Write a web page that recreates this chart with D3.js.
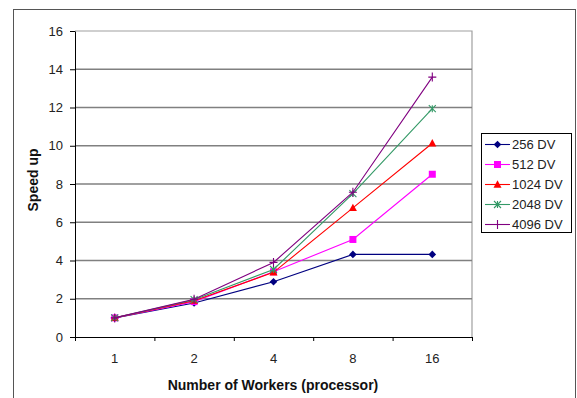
<!DOCTYPE html>
<html>
<head>
<meta charset="utf-8">
<script src="https://cdn.jsdelivr.net/npm/d3@7"></script>
<style>
  body { margin: 0; background: #fff; }
  svg { display: block; font-family: "Liberation Sans", Arial, sans-serif; }
</style>
</head>
<body>
<div id="chart"></div>
<script>
// Data
const workers = ["1", "2", "4", "8", "16"];
const seriesNames = ["256 DV", "512 DV", "1024 DV", "2048 DV", "4096 DV"];
const dv256 = [1.0, 1.78, 2.89, 4.32, 4.32];
const dv512 = [1.0, 1.85, 3.41, 5.1, 8.51];
const dv1024 = [1.0, 1.9, 3.38, 6.75, 10.13];
const dv2048 = [1.0, 1.95, 3.53, 7.5, 11.94];
const dv4096 = [1.0, 1.97, 3.9, 7.57, 13.59];
const yTicks = [0, 2, 4, 6, 8, 10, 12, 14, 16];

const allValues = [dv256, dv512, dv1024, dv2048, dv4096];
const colors = ["#000080", "#ff00ff", "#ff0000", "#339966", "#800080"];
const markers = ["diamond", "square", "triangle", "star", "plus"];

const W = 577, H = 398;
const plot = { left: 75, right: 472, top: 31, bottom: 337 };

const svg = d3.select("#chart")
  .append("svg")
  .attr("width", W)
  .attr("height", H);

// outer frame
svg.append("rect")
  .attr("x", 13.5).attr("y", 9.5)
  .attr("width", 562).attr("height", 400)
  .attr("fill", "none")
  .attr("stroke", "#555")
  .attr("stroke-width", 1);

// scales
const x = d3.scaleBand()
  .domain(workers)
  .range([plot.left, plot.right]);
const xEdge = d3.scaleLinear()
  .domain([0, workers.length])
  .range([plot.left, plot.right]);
const y = d3.scaleLinear()
  .domain([0, 16])
  .range([plot.bottom, plot.top]);

// plot border (top/right grey)
svg.append("path")
  .attr("d", `M${plot.left},${plot.top}H${plot.right}V${plot.bottom}`)
  .attr("fill", "none")
  .attr("stroke", "#a0a0a0")
  .attr("stroke-width", 1.2);

// gridlines
svg.append("g")
  .selectAll("line")
  .data(yTicks.filter(d => d > 0 && d < 16))
  .enter()
  .append("line")
  .attr("x1", plot.left)
  .attr("x2", plot.right)
  .attr("y1", d => y(d))
  .attr("y2", d => y(d))
  .attr("stroke", "#808080")
  .attr("stroke-width", 1.3);

// y axis
const yAxis = svg.append("g")
  .attr("transform", `translate(${plot.left},0)`)
  .call(d3.axisLeft(y).tickValues(yTicks).tickSize(5).tickPadding(7).tickSizeOuter(0));
yAxis.select(".domain").attr("stroke", "#000");
yAxis.selectAll("text").attr("font-size", 13).attr("fill", "#222").attr("font-family", "Liberation Sans, Arial, sans-serif");

// x axis: tick marks at band edges, labels at band centres
const xAxis = svg.append("g")
  .attr("transform", `translate(0,${plot.bottom})`)
  .call(d3.axisBottom(xEdge).ticks(5).tickSize(4).tickFormat("").tickSizeOuter(0));
xAxis.select(".domain").attr("stroke", "#000");

svg.append("g")
  .selectAll("text")
  .data(workers)
  .enter()
  .append("text")
  .attr("x", d => x(d) + x.bandwidth() / 2)
  .attr("y", 363)
  .attr("text-anchor", "middle")
  .attr("font-size", 13)
  .attr("fill", "#222")
  .text(d => d);

// axis titles
svg.append("text")
  .attr("x", 273)
  .attr("y", 390)
  .attr("text-anchor", "middle")
  .attr("font-size", 14)
  .attr("font-weight", "bold")
  .attr("fill", "#111")
  .text("Number of Workers (processor)");

svg.append("text")
  .attr("transform", `translate(38,180) rotate(-90)`)
  .attr("text-anchor", "middle")
  .attr("font-size", 14)
  .attr("font-weight", "bold")
  .attr("fill", "#111")
  .text("Speed up");

// marker drawing
function drawMarker(g, type, color) {
  if (type === "diamond") {
    g.append("path").attr("d", "M0,-3.8L3.8,0L0,3.8L-3.8,0Z").attr("fill", color);
  } else if (type === "square") {
    g.append("rect").attr("x", -3.5).attr("y", -3.5).attr("width", 7).attr("height", 7).attr("fill", color);
  } else if (type === "triangle") {
    g.append("path").attr("d", "M0,-4.2L4,3.2L-4,3.2Z").attr("fill", color);
  } else if (type === "star") {
    g.append("path").attr("d", "M-3.5,-3.5L3.5,3.5M-3.5,3.5L3.5,-3.5M0,-3.5V3.5")
      .attr("stroke", color).attr("stroke-width", 1.1).attr("fill", "none");
  } else if (type === "plus") {
    g.append("path").attr("d", "M-4,0H4M0,-4.5V4.5")
      .attr("stroke", color).attr("stroke-width", 1.1).attr("fill", "none");
  }
}

const line = d3.line()
  .x((d, i) => x(workers[i]) + x.bandwidth() / 2)
  .y(d => y(d));

// series
allValues.forEach((vals, s) => {
  const g = svg.append("g");
  g.append("path")
    .datum(vals)
    .attr("d", line)
    .attr("fill", "none")
    .attr("stroke", colors[s])
    .attr("stroke-width", 1.1);
  vals.forEach((v, i) => {
    const m = g.append("g")
      .attr("transform", `translate(${x(workers[i]) + x.bandwidth() / 2},${y(v)})`);
    drawMarker(m, markers[s], colors[s]);
  });
});

// legend
const legend = svg.append("g");
legend.append("rect")
  .attr("x", 481.5).attr("y", 133.5)
  .attr("width", 90).attr("height", 99)
  .attr("fill", "#fff")
  .attr("stroke", "#000")
  .attr("stroke-width", 1);

seriesNames.forEach((name, s) => {
  const ly = 144.5 + s * 20;
  legend.append("line")
    .attr("x1", 485).attr("x2", 510)
    .attr("y1", ly).attr("y2", ly)
    .attr("stroke", colors[s])
    .attr("stroke-width", 1.1);
  const m = legend.append("g").attr("transform", `translate(497.5,${ly})`);
  drawMarker(m, markers[s], colors[s]);
  legend.append("text")
    .attr("x", 512)
    .attr("y", ly + 4.5)
    .attr("font-size", 13)
    .attr("fill", "#222")
    .text(name);
});
</script>
</body>
</html>
